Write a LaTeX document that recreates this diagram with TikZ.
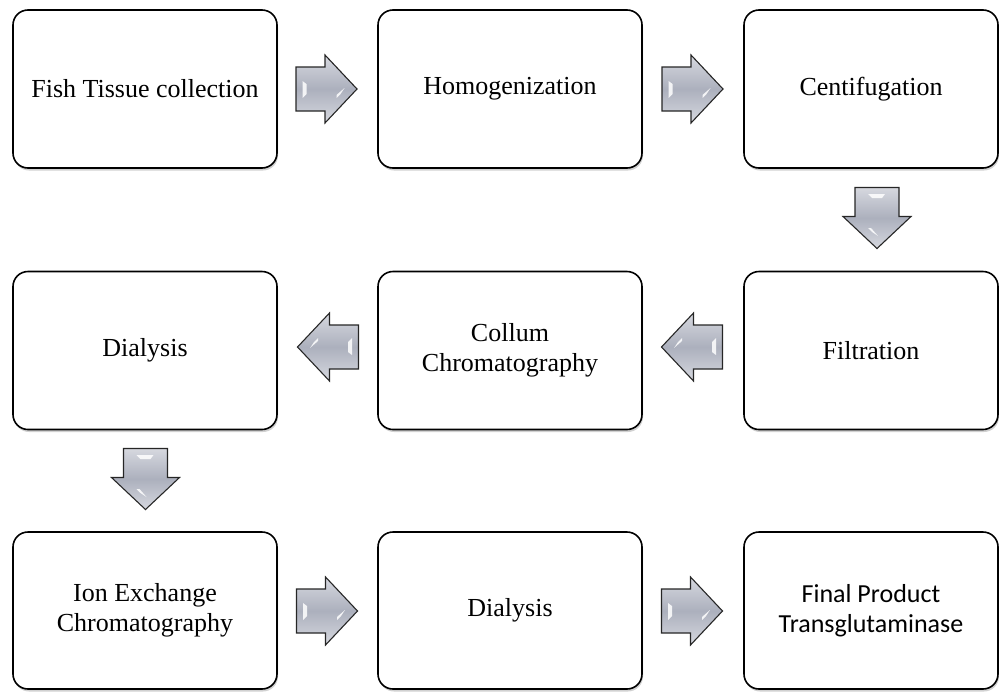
\documentclass[tikz,border=0pt]{standalone}
\usepackage{fontspec}
\setmainfont{Liberation Serif}
\newfontfamily\calib{Carlito}
\usetikzlibrary{shadows}
\definecolor{arrowmid}{RGB}{172,176,189}
\definecolor{arrowlite}{RGB}{214,216,223}
\tikzset{
  stepbox/.style={draw=black, line width=1.6pt, rounded corners=15pt, fill=white,
    minimum width=264pt, minimum height=158pt, align=center, inner sep=4pt,
    font=\fontsize{26}{30}\selectfont,
    drop shadow={shadow xshift=1pt, shadow yshift=-2.5pt, opacity=0.3, fill=black!60}},
  arrowbody/.style={draw=black!85, line width=1.1pt, line join=miter,
    top color=arrowlite, bottom color=arrowlite, middle color=arrowmid},
  highlight/.style={fill=white, opacity=0.85, draw=none},
  blockarr/.pic={
    \path[arrowbody] (-30.5,-22) -- (-1.5,-22) -- (-1.5,-34) -- (30.5,0)
      -- (-1.5,34) -- (-1.5,22) -- (-30.5,22) -- cycle;
    \path[highlight] (-24,-8) -- (-20,-5) -- (-20,5) -- (-24,9) -- cycle;
    \path[highlight] (10,6) -- (18,-1) -- (14,5) -- (10,9) -- cycle;
  }
}
\begin{document}
\begin{tikzpicture}[x=1pt,y=-1pt]
\useasboundingbox (0,0) rectangle (999,691);
% row 1
\node[stepbox] (b1) at (145,89) {Fish Tissue collection};
\node[stepbox] (b2) at (510,89) {Homogenization};
\node[stepbox, minimum width=254pt] (b3) at (871,89) {Centifugation};
% row 2
\node[stepbox] (b4) at (145,350.5) {Dialysis};
\node[stepbox] (b5) at (510,350.5) {Collum\\Chromatography};
\node[stepbox, minimum width=254pt] (b6) at (871,350.5) {Filtration};
% row 3
\node[stepbox, minimum height=157pt] (b7) at (145,610.5) {Ion Exchange\\Chromatography};
\node[stepbox, minimum height=157pt] (b8) at (510,610.5) {Dialysis};
\node[stepbox, minimum height=157pt, minimum width=254pt,
      font=\calib\fontsize{26}{30}\selectfont] (b9) at (871,610.5) {Final Product\\Transglutaminase};
% block arrows
\pic at (326.5,89) {blockarr};
\pic at (692.5,89) {blockarr};
\pic[rotate=-90] at (877,218) {blockarr};
\pic[rotate=180] at (692,347) {blockarr};
\pic[rotate=180] at (328,347) {blockarr};
\pic[rotate=-90] at (145.5,479) {blockarr};
\pic at (327,611) {blockarr};
\pic at (692,611) {blockarr};
\end{tikzpicture}
\end{document}
